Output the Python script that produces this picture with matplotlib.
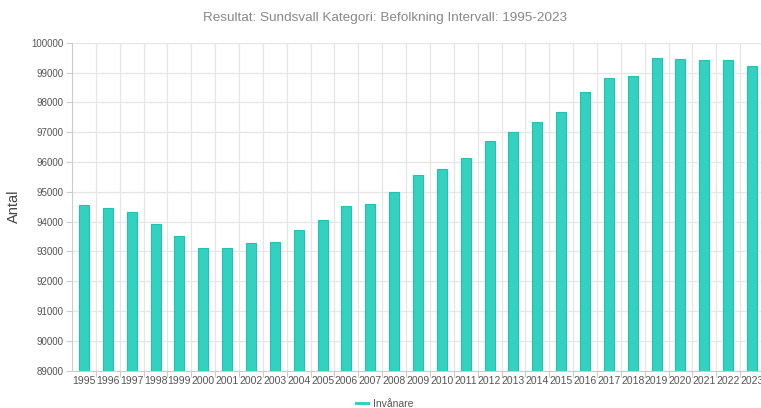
import numpy as np
import matplotlib.pyplot as plt
from matplotlib.lines import Line2D

plt.rcParams['font.family'] = ['Liberation Sans', 'DejaVu Sans']

years = [str(y) for y in range(1995, 2024)]
invanare = [94557, 94446, 94332, 93930, 93507, 93125, 93117, 93272, 93326,
            93728, 94043, 94523, 94590, 94993, 95563, 95754, 96122, 96693,
            97005, 97350, 97665, 98356, 98826, 98883, 99486, 99463, 99409,
            99405, 99228]

fig = plt.figure(figsize=(7.61, 4.08), dpi=100)
ax = fig.add_axes([72 / 761, (408 - 370.7) / 408, 692 / 761, 328 / 408])

x = np.arange(len(years))
ax.bar(x, invanare, width=0.42, color='#33d1c0', edgecolor='#22c2b0',
       linewidth=0.8, zorder=3)

ax.set_ylim(89000, 100000)
ax.set_xlim(-0.5, len(years) - 0.5)
ax.set_yticks(np.arange(89000, 100001, 1000))
ax.set_yticklabels([str(v) for v in range(89000, 100001, 1000)], fontsize=7, color='#555555')

# grid lines between categories
ax.set_xticks(x + 0.5, minor=False)
ax.set_xticklabels([])
ax.set_xticks(x, minor=True)
ax.set_xticklabels(years, minor=True, fontsize=7.5, color='#555555')
ax.tick_params(axis='x', which='minor', length=0, pad=4)
ax.tick_params(axis='x', which='major', length=4, color='#cccccc')
ax.tick_params(axis='y', length=4, color='#cccccc', pad=2)
ax.grid(True, which='major', color='#e6e6e6', linewidth=0.9, zorder=0)

for side in ['top', 'right']:
    ax.spines[side].set_visible(False)
for side in ['left', 'bottom']:
    ax.spines[side].set_color('#cccccc')

ax.set_ylabel('Antal', fontsize=10.5, color='#444444')
ax.yaxis.set_label_coords((21 - 72) / 692, 0.5)

fig.text(385 / 761, 1 - 18 / 408, 'Resultat: Sundsvall Kategori: Befolkning Intervall: 1995-2023',
         ha='center', va='center', fontsize=9.7, color='#888888')

handle = Line2D([], [], color='#33d1c0', lw=2.2)
fig.legend([handle], ['Invånare'], loc='center', bbox_to_anchor=(385 / 761, 1 - 404 / 408),
           frameon=False, fontsize=7.5, handlelength=1.1, handletextpad=0.5, labelcolor='#555555')

fig.savefig('out.png', dpi=100)
